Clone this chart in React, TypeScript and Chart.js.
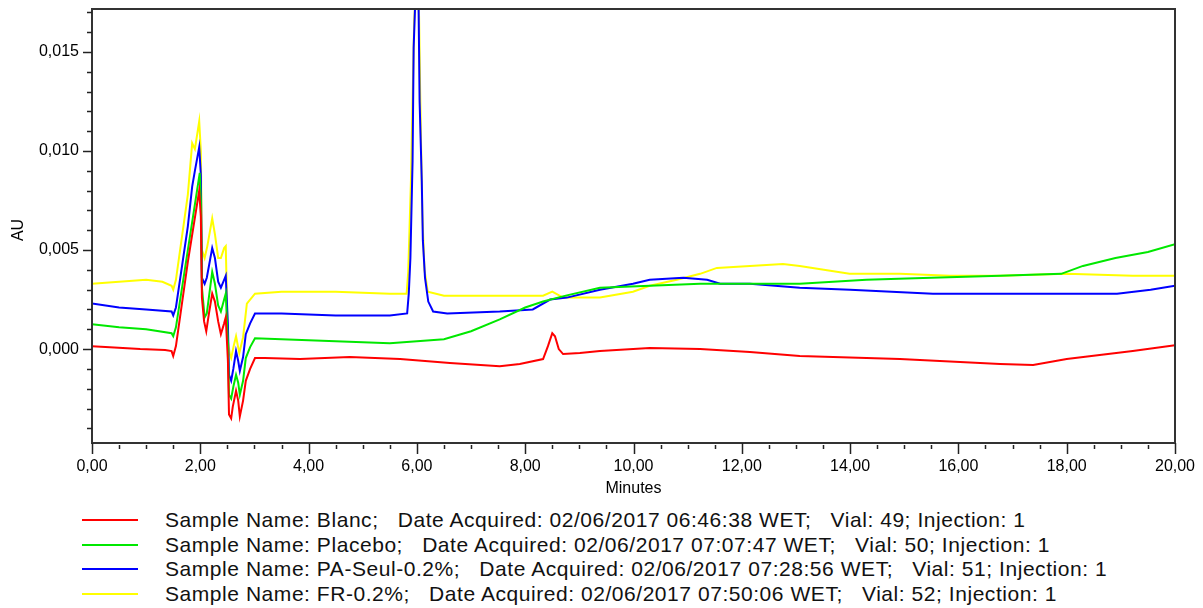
import React, { useEffect, useRef } from "react";
import { Chart, registerables } from "chart.js";

Chart.register(...registerables);

// ---------- data ----------
const SAMPLE_NAMES = ["Blanc", "Placebo", "PA-Seul-0.2%", "FR-0.2%"];
const DATES = [
  "02/06/2017 06:46:38 WET",
  "02/06/2017 07:07:47 WET",
  "02/06/2017 07:28:56 WET",
  "02/06/2017 07:50:06 WET",
];
const VIALS = [49, 50, 51, 52];
const INJECTIONS = [1, 1, 1, 1];
const COLORS = ["#ff0000", "#00e800", "#0000ff", "#ffff00"];

// [minutes, AU]
const blanc: [number, number][] = [
  [0, 0.00015], [0.33, 0.0001], [0.89, 0.0], [1.35, -0.00005], [1.47, -0.0001], [1.5, -0.00035],
  [1.55, 0.00015], [1.77, 0.0044], [1.98, 0.008], [2.01, 0.0067], [2.03, 0.0026], [2.07, 0.0014],
  [2.11, 0.0009], [2.16, 0.0018], [2.22, 0.0028], [2.27, 0.0024], [2.33, 0.0014], [2.38, 0.00075],
  [2.44, 0.0013], [2.47, 0.0016], [2.51, -0.0006], [2.53, -0.0033], [2.57, -0.0035], [2.6, -0.0029],
  [2.66, -0.0021], [2.7, -0.0026], [2.73, -0.0034], [2.79, -0.0026], [2.84, -0.0016], [2.92, -0.001],
  [3.01, -0.00045], [3.19, -0.00045], [3.84, -0.0005], [4.76, -0.0004], [5.69, -0.0005], [6.61, -0.0007],
  [7.53, -0.00086], [7.9, -0.00075], [8.33, -0.0005], [8.42, 0.00015], [8.5, 0.0008], [8.55, 0.00065],
  [8.62, 0.0], [8.7, -0.00025], [9.01, -0.0002], [9.38, -0.0001], [10.3, 0.00005], [11.23, 0.0],
  [12.15, -0.00015], [13.07, -0.00035], [14.92, -0.0005], [16.77, -0.00075], [17.38, -0.0008],
  [18.0, -0.0005], [19.22, -0.0001], [20.0, 0.0002],
];

const placebo: [number, number][] = [
  [0, 0.00126], [0.5, 0.0011], [1.0, 0.001], [1.47, 0.0008], [1.5, 0.00065], [1.55, 0.0011],
  [1.77, 0.005], [1.99, 0.0089], [2.01, 0.0075], [2.03, 0.0031], [2.08, 0.0016], [2.12, 0.0018],
  [2.22, 0.0039], [2.27, 0.0033], [2.33, 0.0022], [2.38, 0.0019], [2.44, 0.0025], [2.47, 0.0028],
  [2.51, 0.0003], [2.53, -0.0023], [2.57, -0.0025], [2.61, -0.0019], [2.66, -0.0013], [2.7, -0.0017],
  [2.73, -0.0023], [2.79, -0.0016], [2.84, -0.00045], [2.92, 0.0001], [3.01, 0.00055], [3.5, 0.0005],
  [4.5, 0.0004], [5.5, 0.0003], [6.5, 0.0005], [7.0, 0.0009], [7.53, 0.0015], [8.0, 0.0021],
  [8.33, 0.0024], [8.75, 0.0027], [9.38, 0.0031], [10.3, 0.0032], [11.23, 0.0033], [12.15, 0.0033],
  [13.07, 0.0033], [14.3, 0.0035], [15.5, 0.0036], [16.77, 0.0037], [17.9, 0.0038], [18.3, 0.0042],
  [18.9, 0.0046], [19.5, 0.0049], [20.0, 0.0053],
];

const paSeul: [number, number][] = [
  [0, 0.0023], [0.5, 0.0021], [1.0, 0.002], [1.47, 0.0019], [1.5, 0.0017], [1.55, 0.0021],
  [1.77, 0.0062], [1.85, 0.0082], [1.9, 0.009], [1.98, 0.0102], [2.01, 0.0088], [2.03, 0.0036],
  [2.08, 0.0033], [2.12, 0.0036], [2.22, 0.0051], [2.27, 0.0046], [2.33, 0.0034], [2.38, 0.0031],
  [2.44, 0.0035], [2.47, 0.0037], [2.51, 0.0012], [2.53, -0.0013], [2.57, -0.0016], [2.61, -0.001],
  [2.66, -0.0001], [2.7, -0.0006], [2.73, -0.0011], [2.79, -0.0004], [2.84, 0.00075], [2.92, 0.0013],
  [3.01, 0.0018], [3.5, 0.0018], [4.5, 0.0017], [5.5, 0.0017], [5.82, 0.0018], [5.85, 0.0028],
  [5.88, 0.0046], [5.92, 0.0095], [5.94, 0.0152], [5.97, 0.0176], [6.0, 0.0185], [6.03, 0.0176],
  [6.05, 0.0125], [6.09, 0.0085], [6.11, 0.0055], [6.15, 0.0036], [6.21, 0.0024], [6.3, 0.0019],
  [6.56, 0.0018], [7.53, 0.0019], [8.14, 0.002], [8.46, 0.0025], [8.77, 0.0026], [9.38, 0.003],
  [9.99, 0.0033], [10.3, 0.0035], [10.92, 0.0036], [11.36, 0.0035], [11.6, 0.0033], [12.15, 0.0033],
  [13.07, 0.0031], [14.0, 0.003], [15.53, 0.0028], [17.38, 0.0028], [18.93, 0.0028], [19.55, 0.003],
  [20.0, 0.0032],
];

const fr: [number, number][] = [
  [0, 0.0033], [0.5, 0.0034], [1.0, 0.0035], [1.3, 0.0034], [1.47, 0.0032], [1.5, 0.003],
  [1.55, 0.0035], [1.77, 0.0078], [1.85, 0.0104], [1.9, 0.0101], [1.98, 0.0115], [2.01, 0.01],
  [2.03, 0.005], [2.08, 0.0046], [2.13, 0.0052], [2.22, 0.0066], [2.27, 0.0058], [2.33, 0.0046],
  [2.38, 0.0046], [2.44, 0.0051], [2.47, 0.0052], [2.51, 0.0004], [2.55, -0.0003], [2.57, -0.00045],
  [2.62, 0.0002], [2.66, 0.00065], [2.72, -0.0002], [2.79, 0.0006], [2.86, 0.0023], [3.01, 0.0028],
  [3.5, 0.0029], [4.5, 0.0029], [5.5, 0.0028], [5.81, 0.0028], [5.84, 0.0039], [5.89, 0.0085],
  [5.92, 0.0125], [5.95, 0.0166], [6.0, 0.0188], [6.04, 0.0168], [6.06, 0.013], [6.1, 0.0068],
  [6.14, 0.0040], [6.2, 0.0029], [6.5, 0.0027], [7.5, 0.0027], [8.33, 0.0027], [8.5, 0.0029],
  [8.7, 0.0026], [9.38, 0.0026], [9.99, 0.0029], [10.3, 0.0032], [10.8, 0.0035], [11.23, 0.0038],
  [11.54, 0.0041], [12.15, 0.0042], [12.76, 0.0043], [13.07, 0.0042], [13.99, 0.0038], [14.92, 0.0038],
  [15.84, 0.0037], [16.77, 0.0037], [18.0, 0.0038], [19.22, 0.0037], [20.0, 0.0037],
];

const SERIES = [blanc, placebo, paSeul, fr];

const X_MIN = 0;
const X_MAX = 20;
const X_STEP = 0.5;
const X_LABEL_EVERY = 2;
const Y_MIN = -0.00474;
const Y_MAX = 0.01717;
const Y_STEP = 0.001;
const Y_LABEL_EVERY = 0.005;
const X_TITLE = "Minutes";
const Y_TITLE = "AU";

// ---------- layout ----------
const W = 1203;
const CH = 500;
const FONT = '"Liberation Sans", Arial, sans-serif';

const isMultiple = (v: number, step: number) =>
  Math.abs(Math.round(v / step) * step - v) < 1e-9;

const framePlugin = {
  id: "frameTicks",
  afterDatasetsDraw(chart: any) {
    const { ctx, chartArea: a, scales } = chart;
    ctx.save();
    ctx.strokeStyle = "#333333";
    ctx.lineWidth = 2;
    ctx.strokeRect(a.left, a.top, a.right - a.left, a.bottom - a.top);
    ctx.lineWidth = 1.5;
    ctx.strokeStyle = "#222222";
    scales.y.ticks.forEach((t: any) => {
      const py = Math.round(scales.y.getPixelForValue(t.value)) + 0.5;
      const len = isMultiple(t.value, Y_LABEL_EVERY) ? 9 : 5;
      ctx.beginPath();
      ctx.moveTo(a.left - len, py);
      ctx.lineTo(a.left, py);
      ctx.stroke();
    });
    scales.x.ticks.forEach((t: any) => {
      const px = Math.round(scales.x.getPixelForValue(t.value)) + 0.5;
      const major = isMultiple(t.value, X_LABEL_EVERY);
      ctx.beginPath();
      ctx.moveTo(px, a.bottom + (major ? 0 : 2));
      ctx.lineTo(px, a.bottom + (major ? 11 : 6));
      ctx.stroke();
    });
    ctx.fillStyle = "#000";
    ctx.font = `16px ${FONT}`;
    ctx.textAlign = "center";
    ctx.textBaseline = "middle";
    ctx.fillText(X_TITLE, (a.left + a.right) / 2, 489);
    ctx.translate(19, 230);
    ctx.rotate(-Math.PI / 2);
    ctx.fillText(Y_TITLE, 0, 0);
    ctx.restore();
  },
};

export default function App() {
  const ref = useRef<HTMLCanvasElement | null>(null);

  useEffect(() => {
    if (!ref.current) return;
    const chart = new Chart(ref.current, {
      type: "line",
      data: {
        datasets: SERIES.map((s, i) => ({
          label: SAMPLE_NAMES[i],
          data: s.map(([x, y]) => ({ x, y })),
          borderColor: COLORS[i],
          backgroundColor: COLORS[i],
          borderWidth: 2,
          pointRadius: 0,
          tension: 0,
          fill: false,
        })),
      },
      options: {
        animation: false,
        responsive: false,
        devicePixelRatio: 1,
        parsing: true,
        layout: { padding: { top: 9, right: 28, left: 0, bottom: 0 } },
        plugins: { legend: { display: false }, tooltip: { enabled: false }, title: { display: false } },
        scales: {
          x: {
            type: "linear",
            min: X_MIN,
            max: X_MAX,
            grid: { display: false, drawTicks: true, tickLength: 11 },
            border: { display: false },
            ticks: {
              stepSize: X_STEP,
              autoSkip: false,
              maxRotation: 0,
              includeBounds: false,
              padding: 3,
              color: "#000",
              font: { family: FONT, size: 16 },
              callback: (v: any) => (isMultiple(Number(v), X_LABEL_EVERY) ? Number(v).toFixed(2).replace(".", ",") : ""),
            },
            afterFit: (s: any) => {
              s.height = CH - 443;
              s.paddingLeft = 0;
              s.paddingRight = 0;
            },
          },
          y: {
            type: "linear",
            min: Y_MIN,
            max: Y_MAX,
            grid: { display: false, drawTicks: true, tickLength: 9 },
            border: { display: false },
            ticks: {
              stepSize: Y_STEP,
              autoSkip: false,
              includeBounds: false,
              padding: 4,
              color: "#000",
              font: { family: FONT, size: 16 },
              callback: (v: any) => (isMultiple(Number(v), Y_LABEL_EVERY) ? Number(v).toFixed(3).replace(".", ",") : ""),
            },
            afterFit: (s: any) => {
              s.width = 92;
              s.paddingTop = 0;
              s.paddingBottom = 0;
            },
          },
        },
      } as any,
      plugins: [framePlugin],
    });
    return () => chart.destroy();
  }, []);

  const rowCenters = [520, 545, 569, 594];

  return (
    <div style={{ position: "absolute", left: 0, top: 0, width: W, height: 608, background: "#fff", overflow: "hidden" }}>
      <canvas ref={ref} width={W} height={CH} style={{ position: "absolute", left: 0, top: 0, width: W, height: CH }} />
      {SAMPLE_NAMES.map((name, i) => (
        <div key={name}>
          <div
            style={{
              position: "absolute",
              left: 82,
              top: rowCenters[i] - 1,
              width: 56,
              height: 2,
              background: COLORS[i],
            }}
          />
          <div
            style={{
              position: "absolute",
              left: 165,
              top: rowCenters[i] - 12,
              height: 24,
              lineHeight: "24px",
              fontFamily: FONT,
              fontSize: 21,
              letterSpacing: "0.55px",
              color: "#111",
              whiteSpace: "pre",
            }}
          >
            {`Sample Name: ${name};   Date Acquired: ${DATES[i]};   Vial: ${VIALS[i]}; Injection: ${INJECTIONS[i]}`}
          </div>
        </div>
      ))}
    </div>
  );
}
